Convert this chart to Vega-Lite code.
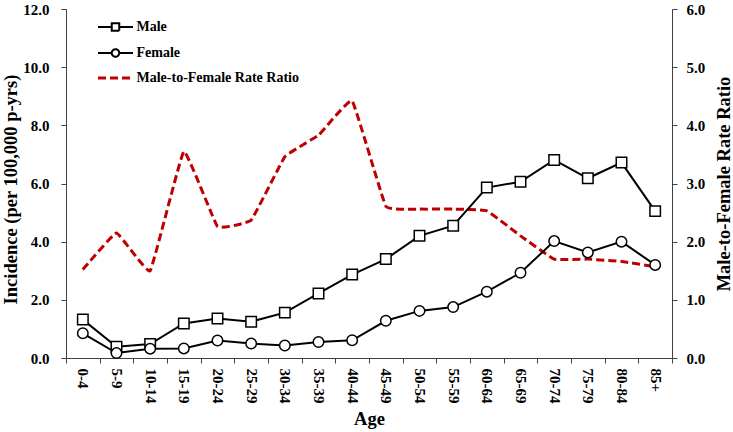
{
  "$schema": "https://vega.github.io/schema/vega-lite/v6.json",
  "width": 606,
  "height": 349,
  "autosize": {"type": "none"},
  "padding": {"left": 66, "top": 9, "right": 61, "bottom": 74},
  "background": "white",
  "config": {
    "view": {"stroke": null},
    "font": "Liberation Serif",
    "axis": {
      "labelFont": "Liberation Serif",
      "labelFontWeight": "bold",
      "labelFontSize": 15,
      "labelColor": "black",
      "titleFont": "Liberation Serif",
      "titleFontWeight": "bold",
      "titleFontSize": 18.5,
      "titleColor": "black",
      "domainColor": "#404040",
      "tickColor": "#404040",
      "tickSize": 5,
      "grid": false
    },
    "legend": {
      "labelFont": "Liberation Serif",
      "labelFontWeight": "bold",
      "labelFontSize": 14,
      "labelColor": "black",
      "labelLimit": 400
    }
  },
  "data": {
    "values": [
      {"age": "0-4", "series": "Male", "value": 1.32},
      {"age": "5-9", "series": "Male", "value": 0.39},
      {"age": "10-14", "series": "Male", "value": 0.48},
      {"age": "15-19", "series": "Male", "value": 1.19},
      {"age": "20-24", "series": "Male", "value": 1.36},
      {"age": "25-29", "series": "Male", "value": 1.25},
      {"age": "30-34", "series": "Male", "value": 1.56},
      {"age": "35-39", "series": "Male", "value": 2.22},
      {"age": "40-44", "series": "Male", "value": 2.87},
      {"age": "45-49", "series": "Male", "value": 3.4},
      {"age": "50-54", "series": "Male", "value": 4.2},
      {"age": "55-59", "series": "Male", "value": 4.55},
      {"age": "60-64", "series": "Male", "value": 5.86},
      {"age": "65-69", "series": "Male", "value": 6.06},
      {"age": "70-74", "series": "Male", "value": 6.81},
      {"age": "75-79", "series": "Male", "value": 6.18},
      {"age": "80-84", "series": "Male", "value": 6.72},
      {"age": "85+", "series": "Male", "value": 5.05},
      {"age": "0-4", "series": "Female", "value": 0.85},
      {"age": "5-9", "series": "Female", "value": 0.17},
      {"age": "10-14", "series": "Female", "value": 0.32},
      {"age": "15-19", "series": "Female", "value": 0.33},
      {"age": "20-24", "series": "Female", "value": 0.6},
      {"age": "25-29", "series": "Female", "value": 0.5},
      {"age": "30-34", "series": "Female", "value": 0.43},
      {"age": "35-39", "series": "Female", "value": 0.55},
      {"age": "40-44", "series": "Female", "value": 0.61},
      {"age": "45-49", "series": "Female", "value": 1.28},
      {"age": "50-54", "series": "Female", "value": 1.62},
      {"age": "55-59", "series": "Female", "value": 1.75},
      {"age": "60-64", "series": "Female", "value": 2.28},
      {"age": "65-69", "series": "Female", "value": 2.93},
      {"age": "70-74", "series": "Female", "value": 4.02},
      {"age": "75-79", "series": "Female", "value": 3.63},
      {"age": "80-84", "series": "Female", "value": 4.0},
      {"age": "85+", "series": "Female", "value": 3.2},
      {"age": "0-4", "series": "Male-to-Female Rate Ratio", "value": 1.52},
      {"age": "5-9", "series": "Male-to-Female Rate Ratio", "value": 2.15},
      {"age": "10-14", "series": "Male-to-Female Rate Ratio", "value": 1.5},
      {"age": "15-19", "series": "Male-to-Female Rate Ratio", "value": 3.55},
      {"age": "20-24", "series": "Male-to-Female Rate Ratio", "value": 2.26},
      {"age": "25-29", "series": "Male-to-Female Rate Ratio", "value": 2.37},
      {"age": "30-34", "series": "Male-to-Female Rate Ratio", "value": 3.46},
      {"age": "35-39", "series": "Male-to-Female Rate Ratio", "value": 3.83},
      {"age": "40-44", "series": "Male-to-Female Rate Ratio", "value": 4.42},
      {"age": "45-49", "series": "Male-to-Female Rate Ratio", "value": 2.61},
      {"age": "50-54", "series": "Male-to-Female Rate Ratio", "value": 2.56},
      {"age": "55-59", "series": "Male-to-Female Rate Ratio", "value": 2.56},
      {"age": "60-64", "series": "Male-to-Female Rate Ratio", "value": 2.53},
      {"age": "65-69", "series": "Male-to-Female Rate Ratio", "value": 2.1},
      {"age": "70-74", "series": "Male-to-Female Rate Ratio", "value": 1.7},
      {"age": "75-79", "series": "Male-to-Female Rate Ratio", "value": 1.7},
      {"age": "80-84", "series": "Male-to-Female Rate Ratio", "value": 1.66},
      {"age": "85+", "series": "Male-to-Female Rate Ratio", "value": 1.57}
    ]
  },
  "encoding": {
    "x": {
      "field": "age",
      "type": "ordinal",
      "sort": ["0-4","5-9","10-14","15-19","20-24","25-29","30-34","35-39","40-44","45-49","50-54","55-59","60-64","65-69","70-74","75-79","80-84","85+"],
      "scale": {"type": "band", "paddingInner": 0, "paddingOuter": 0},
      "axis": {
        "title": "Age",
        "labelAngle": 90,
        "labelPadding": 5,
        "tickBand": "extent",
        "titlePadding": 7
      }
    }
  },
  "layer": [
    {
      "transform": [{"filter": "datum.series === 'Male-to-Female Rate Ratio'"}],
      "mark": {"type": "line", "strokeWidth": 3, "strokeDash": [8, 4], "interpolate": "cardinal", "tension": 0.75},
      "encoding": {
        "y": {
          "field": "value",
          "type": "quantitative",
          "scale": {"domain": [0, 6]},
          "axis": {
            "orient": "right",
            "title": "Male-to-Female Rate Ratio",
            "values": [0, 1, 2, 3, 4, 5, 6],
            "format": ".1f",
            "labelPadding": 9,
            "titleAngle": 270,
            "titleBaseline": "top",
            "titlePadding": 10
          }
        },
        "color": {
          "field": "series",
          "type": "nominal",
          "scale": {"domain": ["Male", "Female", "Male-to-Female Rate Ratio"], "range": ["black", "black", "#C00000"]},
          "legend": {
            "title": null,
            "orient": "none",
            "legendX": 42.5,
            "legendY": 11,
            "padding": 0,
            "symbolSize": 100,
            "symbolStrokeWidth": 2,
            "symbolOffset": 0,
            "labelOffset": 14,
            "labelLimit": 400,
            "rowPadding": 10,
            "encode": {
              "symbols": {
                "update": {
                  "shape": {"signal": "datum.value === 'Male' ? 'M-3.5,0H-0.75M0.75,0H3.5M-0.75,-0.75H0.75V0.75H-0.75Z' : datum.value === 'Female' ? 'M-3.5,0H-0.75M0.75,0H3.5M0.75,0A0.75,0.75,0,1,1,-0.75,0A0.75,0.75,0,1,1,0.75,0Z' : 'M-3.5,0H3.5'"},
                  "fill": {"value": "white"},
                  "fillOpacity": {"value": 1},
                  "strokeDash": {"signal": "datum.value === 'Male-to-Female Rate Ratio' ? [8, 4] : [1, 0]"},
                  "strokeWidth": {"signal": "datum.value === 'Male-to-Female Rate Ratio' ? 3 : 2"}
                }
              }
            }
          }
        }
      }
    },
    {
      "transform": [{"filter": "datum.series !== 'Male-to-Female Rate Ratio'"}],
      "encoding": {
        "y": {
          "field": "value",
          "type": "quantitative",
          "scale": {"domain": [0, 12]},
          "axis": {
            "orient": "left",
            "title": "Incidence (per 100,000 p-yrs)",
            "values": [0, 2, 4, 6, 8, 10, 12],
            "format": ".1f",
            "labelPadding": 12,
            "titlePadding": 2,
            "titleY": 180
          }
        }
      },
      "layer": [
        {
          "mark": {"type": "line", "strokeWidth": 2},
          "encoding": {
            "color": {"field": "series", "type": "nominal"},
            "detail": {"field": "series"}
          }
        },
        {
          "mark": {"type": "point", "filled": false, "fill": "white", "fillOpacity": 1, "stroke": "black", "strokeWidth": 1.5, "size": 110, "opacity": 1},
          "encoding": {
            "shape": {
              "field": "series",
              "type": "nominal",
              "scale": {"domain": ["Male", "Female"], "range": ["square", "circle"]},
              "legend": null
            }
          }
        }
      ]
    }
  ],
  "resolve": {"scale": {"y": "independent"}}
}
